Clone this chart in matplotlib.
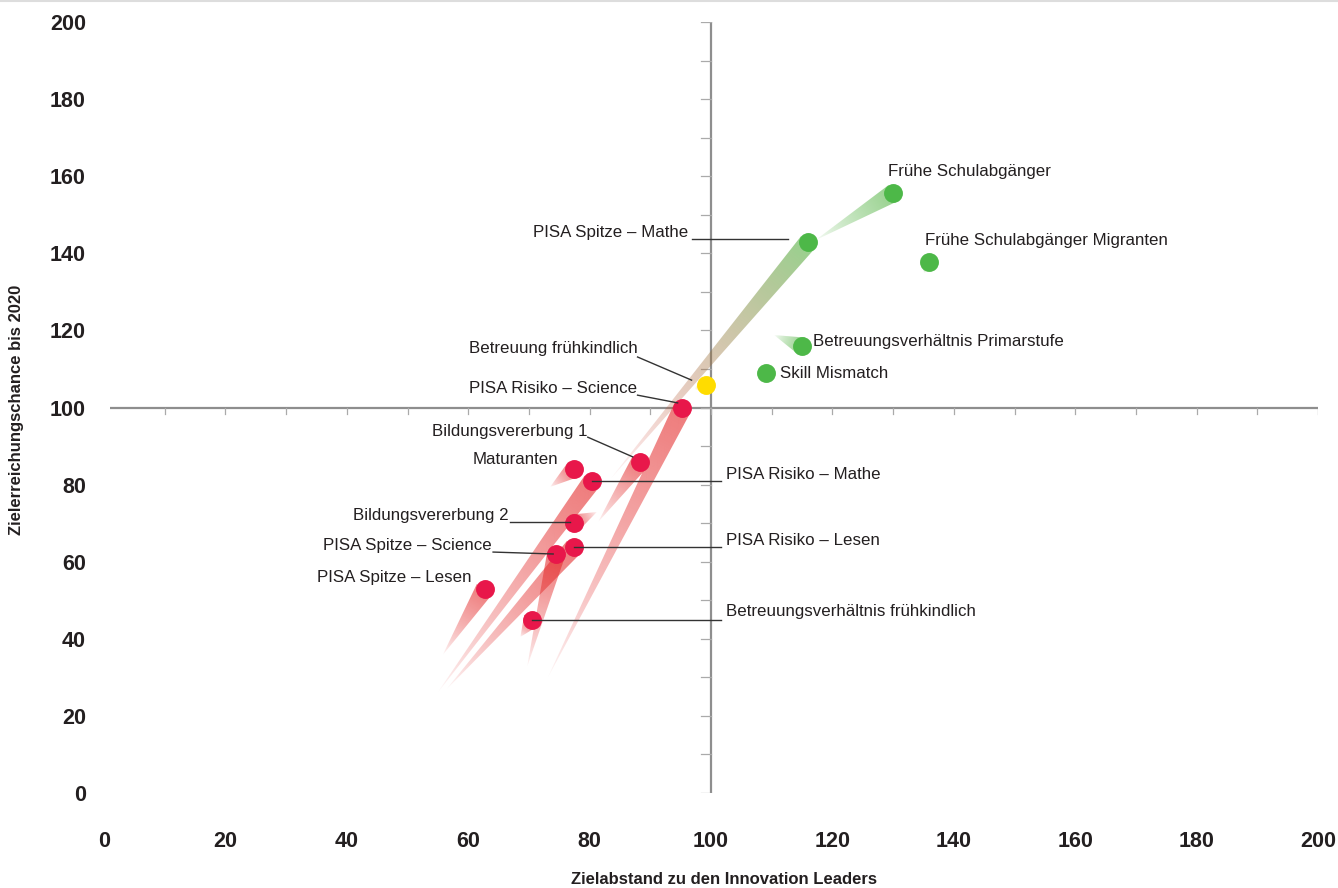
import matplotlib.pyplot as plt
import numpy as np
from matplotlib.patches import Polygon
from matplotlib.colors import to_rgb

# indicators, position 2020 and the previous position (tail start)
names = [
    'Frühe Schulabgänger', 'Frühe Schulabgänger Migranten', 'PISA Spitze – Mathe',
    'Betreuungsverhältnis Primarstufe', 'Skill Mismatch', 'Betreuung frühkindlich',
    'PISA Risiko – Science', 'Bildungsvererbung 1', 'Maturanten', 'PISA Risiko – Mathe',
    'Bildungsvererbung 2', 'PISA Risiko – Lesen', 'PISA Spitze – Science',
    'PISA Spitze – Lesen', 'Betreuungsverhältnis frühkindlich',
]
x_now = [130.0, 135.9, 116.0, 115.0, 109.1, 99.1, 95.3, 88.3, 77.4, 80.4, 77.4, 77.4, 74.5, 62.7, 70.5]
y_now = [155.6, 137.7, 142.9, 115.9, 108.9, 105.8, 99.9, 85.9, 84.0, 80.9, 70.0, 63.8, 62.0, 52.9, 44.9]
x_prev = [117.2, 135.1, 83.3, 110.4, 109.1, 97.3, 73.0, 81.4, 73.5, 54.9, 81.2, 56.3, 69.7, 55.8, 68.6]
y_prev = [143.4, 134.9, 81.2, 118.8, 108.9, 104.8, 29.6, 70.3, 79.4, 25.9, 72.9, 26.7, 32.7, 35.8, 40.5]
status_now = ['gruen', 'gruen', 'gruen', 'gruen', 'gruen', 'gelb', 'rot', 'rot', 'rot',
              'rot', 'rot', 'rot', 'rot', 'rot', 'rot']
status_prev = ['gruen', 'gruen', 'rot', 'gruen', 'gruen', 'gelb', 'rot', 'rot', 'rot',
               'rot', 'rot', 'rot', 'rot', 'rot', 'rot']

x_ticks = [0, 20, 40, 60, 80, 100, 120, 140, 160, 180, 200]
y_ticks = [0, 20, 40, 60, 80, 100, 120, 140, 160, 180, 200]

dot_colors = {'rot': '#e8174a', 'gruen': '#4db848', 'gelb': '#ffdc00'}
tail_colors = {'rot': '#e42a2a', 'gruen': '#58b548', 'gelb': '#ffd200'}

# label placement: (x, y, ha, leader line or None)
labels = {
    'Frühe Schulabgänger': (129.2, 161.3, 'left', None),
    'Frühe Schulabgänger Migranten': (135.2, 143.4, 'left', None),
    'PISA Spitze – Mathe': (96.2, 145.5, 'right', [(96.8, 143.7), (112.7, 143.7)]),
    'Betreuungsverhältnis Primarstufe': (116.8, 117.0, 'left', None),
    'Skill Mismatch': (111.3, 108.7, 'left', None),
    'Betreuung frühkindlich': (87.9, 115.2, 'right', [(87.9, 113.1), (96.8, 107.1)]),
    'PISA Risiko – Science': (87.8, 104.8, 'right', [(87.9, 103.2), (94.5, 101.2)]),
    'Bildungsvererbung 1': (79.7, 93.9, 'right', [(79.7, 92.3), (87.1, 87.2)]),
    'Maturanten': (74.8, 86.4, 'right', None),
    'PISA Risiko – Mathe': (102.4, 82.5, 'left', [(80.4, 80.9), (101.6, 80.9)]),
    'Bildungsvererbung 2': (66.6, 71.9, 'right', [(66.9, 70.3), (76.8, 70.3)]),
    'PISA Risiko – Lesen': (102.4, 65.4, 'left', [(77.4, 63.8), (101.6, 63.8)]),
    'PISA Spitze – Science': (63.8, 64.1, 'right', [(64.1, 62.5), (74.0, 62.0)]),
    'PISA Spitze – Lesen': (60.5, 56.0, 'right', None),
    'Betreuungsverhältnis frühkindlich': (102.4, 47.0, 'left', [(70.5, 44.9), (101.6, 44.9)]),
}

plt.rcParams['font.family'] = ['Liberation Sans', 'DejaVu Sans']


def draw_tail(ax, p_old, p_new, c_old, c_new, width=18.5):
    tr = ax.transData
    a = tr.transform(p_old)
    b = tr.transform(p_new)
    d = b - a
    L = np.hypot(*d)
    if L < 3:
        return
    u = d / L
    n = np.array([-u[1], u[0]])
    tri_px = np.array([a, b + n * width / 2, b - n * width / 2])
    x0, y0 = np.floor(tri_px.min(0)) - 1
    x1, y1 = np.ceil(tri_px.max(0)) + 1
    X, Y = np.meshgrid(np.arange(x0, x1) + 0.5, np.arange(y0, y1) + 0.5)
    t = np.clip(((X - a[0]) * u[0] + (Y - a[1]) * u[1]) / L, 0, 1)
    c0 = np.array(to_rgb(c_old))
    c1 = np.array(to_rgb(c_new))
    rgba = np.zeros(X.shape + (4,))
    rgba[..., :3] = c0 * (1 - t[..., None]) + c1 * t[..., None]
    rgba[..., 3] = 0.62 * t ** 0.7
    inv = tr.inverted()
    (ex0, ey0), (ex1, ey1) = inv.transform([[x0, y0], [x1, y1]])
    im = ax.imshow(rgba, origin='lower', extent=[ex0, ex1, ey0, ey1],
                   aspect='auto', interpolation='bilinear', zorder=2)
    clip = Polygon(inv.transform(tri_px), closed=True, transform=ax.transData)
    im.set_clip_path(clip)


fig = plt.figure(figsize=(13.38, 8.88), dpi=100)
ax = fig.add_axes([104 / 1338, 95 / 888, 1214 / 1338, 771 / 888])
ax.set_xlim(0, 200)
ax.set_ylim(0, 200)
for s in ax.spines.values():
    s.set_visible(False)

# crossing axes at (100, 100)
axis_col = '#8e8e8e'
ax.plot([1.0, 200], [100, 100], color=axis_col, lw=1.6, zorder=1, solid_capstyle='butt')
ax.plot([100, 100], [0, 200], color=axis_col, lw=1.6, zorder=1, solid_capstyle='butt')
for xt in range(10, 201, 10):
    ax.plot([xt, xt], [100, 98.2], color='#aaaaaa', lw=0.9, zorder=1)
for yt in range(0, 201, 10):
    ax.plot([100, 98.3], [yt, yt], color='#aaaaaa', lw=0.9, zorder=1)

for i in range(len(names)):
    draw_tail(ax, (x_prev[i], y_prev[i]), (x_now[i], y_now[i]),
              tail_colors[status_prev[i]], tail_colors[status_now[i]])

for i in range(len(names)):
    ax.plot(x_now[i], y_now[i], 'o', ms=13.6, color=dot_colors[status_now[i]],
            mec='none', zorder=4)

for name in names:
    lx, ly, ha, leader = labels[name]
    ax.text(lx, ly, name, ha=ha, va='center', fontsize=12.2, color='#231f20', zorder=6)
    if leader:
        (ax0, ay0), (ax1, ay1) = leader
        ax.plot([ax0, ax1], [ay0, ay1], color='#333333', lw=1.0, zorder=5)

ax.set_xticks(x_ticks)
ax.set_yticks(y_ticks)
ax.tick_params(axis='both', length=0, labelsize=15.5, labelcolor='#231f20')
ax.tick_params(axis='x', pad=27)
ax.tick_params(axis='y', pad=13)
for lab in ax.get_xticklabels() + ax.get_yticklabels():
    lab.set_fontweight('bold')

fig.text(724 / 1338, 1 - 879 / 888, 'Zielabstand zu den Innovation Leaders',
         ha='center', va='center', fontsize=12, fontweight='bold', color='#231f20')
fig.text(17 / 1338, 1 - 410 / 888, 'Zielerreichungschance bis 2020', rotation=90,
         ha='center', va='center', fontsize=12, fontweight='bold', color='#231f20')

# thin frame line at the top edge
fig.add_artist(plt.Line2D([0, 1], [0.999, 0.999], color='#dddddd', lw=1.5))

fig.savefig('out.png', dpi=100)
